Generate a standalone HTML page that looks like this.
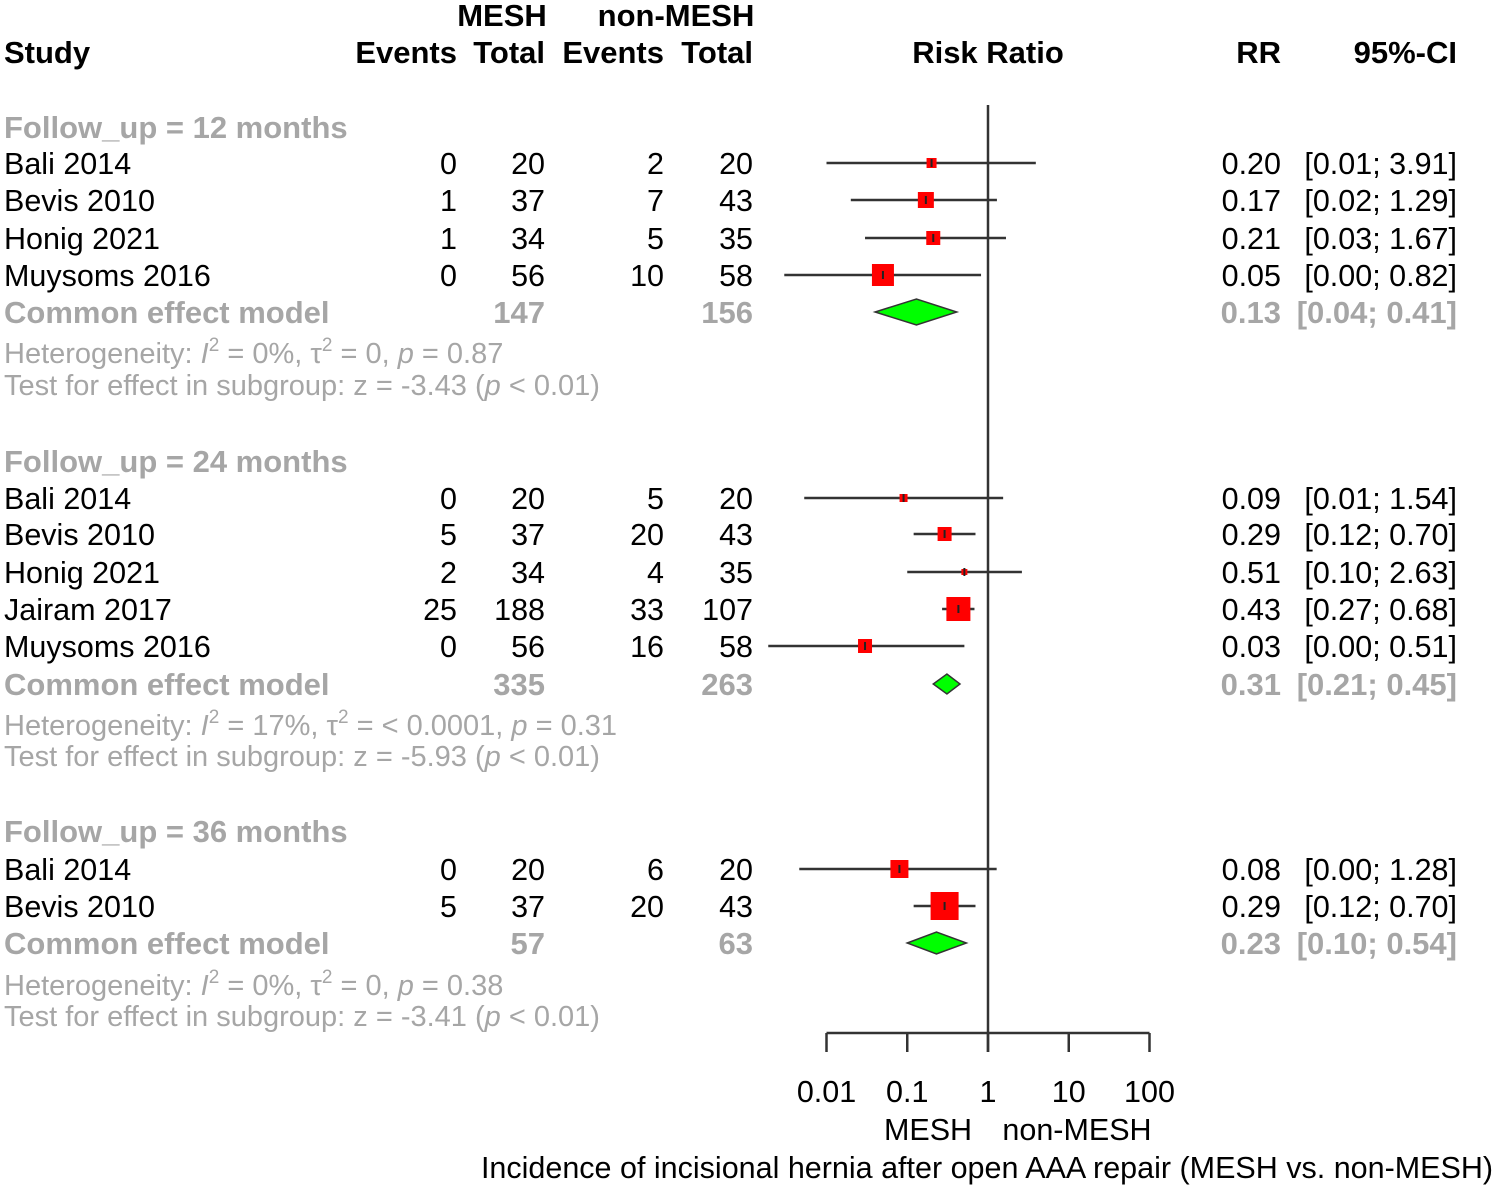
<!DOCTYPE html>
<html><head><meta charset="utf-8"><style>
html,body{margin:0;padding:0;background:#fff;}
svg{display:block;font-family:"Liberation Sans",Arial,sans-serif;}
.t{font-size:30.5px;fill:#000;}
.b{font-weight:bold;font-size:31px;}
.g{fill:#a6a6a6;}
.h{font-size:29px;fill:#a6a6a6;}
</style></head><body>
<svg id="c" width="1501" height="1188" viewBox="0 0 1501 1188">
<g id="txt"></g><g id="plot"></g>
</svg>
<script>
const studies=["Bali 2014","Bevis 2010","Honig 2021","Muysoms 2016","Bali 2014","Bevis 2010","Honig 2021","Jairam 2017","Muysoms 2016","Bali 2014","Bevis 2010"];
const ev1=[0,1,1,0,0,5,2,25,0,0,5];
const tot1=[20,37,34,56,20,37,34,188,56,20,37];
const ev2=[2,7,5,10,5,20,4,33,16,6,20];
const tot2=[20,43,35,58,20,43,35,107,58,20,43];
const rr=[0.20,0.17,0.21,0.05,0.09,0.29,0.51,0.43,0.03,0.08,0.29];
const lo=[0.01,0.02,0.03,0.003,0.0053,0.12,0.10,0.27,0.0019,0.0046,0.12];
const hi=[3.91,1.29,1.67,0.82,1.54,0.70,2.63,0.68,0.51,1.28,0.70];
const loTxt=["0.01","0.02","0.03","0.00","0.01","0.12","0.10","0.27","0.00","0.00","0.12"];
const weight=[5,8,7,11,4,7,3,12,7,9,14];
const rowY=[163,200,238,275,498,534,572,609,646,869,906];
const grpName=["Follow_up = 12 months","Follow_up = 24 months","Follow_up = 36 months"];
const grpHeadY=[127,461,831];
const cmY=[312,684,943];
const cmT1=[147,335,57];
const cmT2=[156,263,63];
const cmRR=[0.13,0.31,0.23];
const cmLo=[0.04,0.21,0.10];
const cmHi=[0.41,0.45,0.54];
const cmH=[13,10,11];
const hetTxt=["Heterogeneity: <tspan font-style='italic'>I</tspan><tspan dy='-12' font-size='19'>2</tspan><tspan dy='12'> = 0%, τ</tspan><tspan dy='-12' font-size='19'>2</tspan><tspan dy='12'> = 0, </tspan><tspan font-style='italic'>p</tspan> = 0.87",
"Heterogeneity: <tspan font-style='italic'>I</tspan><tspan dy='-12' font-size='19'>2</tspan><tspan dy='12'> = 17%, τ</tspan><tspan dy='-12' font-size='19'>2</tspan><tspan dy='12'> = &lt; 0.0001, </tspan><tspan font-style='italic'>p</tspan> = 0.31",
"Heterogeneity: <tspan font-style='italic'>I</tspan><tspan dy='-12' font-size='19'>2</tspan><tspan dy='12'> = 0%, τ</tspan><tspan dy='-12' font-size='19'>2</tspan><tspan dy='12'> = 0, </tspan><tspan font-style='italic'>p</tspan> = 0.38"];
const zTxt=["-3.43","-5.93","-3.41"];
const hetY=[352,724,984];
const testY=[384,755,1015];
const ticks=[0.01,0.1,1,10,100];
const tickLbl=["0.01","0.1","1","10","100"];

const X=v=>988+80.75*Math.log10(v);
const NS="http://www.w3.org/2000/svg";
const T=document.getElementById('txt'),P=document.getElementById('plot');
function mk(tag,attrs,parent){const e=document.createElementNS(NS,tag);for(const k in attrs)e.setAttribute(k,attrs[k]);parent.appendChild(e);return e;}
function txt(x,y,s,cls,anchor,name){const e=mk('text',{x:x,y:y+11,class:cls,'text-anchor':anchor||'start'},T);e.innerHTML=s;


return e;}
txt(502,15,"MESH","t b","middle","mesh-header");
txt(676,15,"non-MESH","t b","middle","non-mesh-header");
txt(4,52,"Study","t b","start","study-header");
txt(457,52,"Events","t b","end","mesh-events-header");
txt(545,52,"Total","t b","end","mesh-total-header");
txt(664,52,"Events","t b","end","nonmesh-events-header");
txt(753,52,"Total","t b","end","nonmesh-total-header");
txt(988,52,"Risk Ratio","t b","middle","risk-ratio-header");
txt(1281,52,"RR","t b","end","rr-header");
txt(1457,52,"95%-CI","t b","end","ci-header");
for(let i=0;i<studies.length;i++){
 const y=rowY[i];
 txt(4,y,studies[i],"t","start","study-name");
 txt(457,y,ev1[i],"t","end","mesh-events");
 txt(545,y,tot1[i],"t","end","mesh-total");
 txt(664,y,ev2[i],"t","end","nonmesh-events");
 txt(753,y,tot2[i],"t","end","nonmesh-total");
 txt(1281,y,rr[i].toFixed(2),"t","end","rr-value");
 txt(1457,y,"["+loTxt[i]+"; "+hi[i].toFixed(2)+"]","t","end","ci-value");
 const l=mk('line',{x1:X(lo[i]),x2:X(hi[i]),y1:y,y2:y,stroke:'#333','stroke-width':2.5},P);
 
 
 const w=weight[i];
 const r=mk('rect',{x:X(rr[i])-w,y:y-w,width:2*w,height:2*w,fill:'#f00'},P);
 
 
 mk('line',{x1:X(rr[i]),x2:X(rr[i]),y1:y-4,y2:y+4,stroke:'#222','stroke-width':2},P);
}
for(let g=0;g<3;g++){
 txt(4,grpHeadY[g],grpName[g],"t b g","start","subgroup-header");
 const y=cmY[g];
 txt(4,y,"Common effect model","t b g","start","common-effect-label");
 txt(545,y,cmT1[g],"t b g","end","common-mesh-total");
 txt(753,y,cmT2[g],"t b g","end","common-nonmesh-total");
 txt(1281,y,cmRR[g].toFixed(2),"t b g","end","common-rr");
 txt(1457,y,"["+cmLo[g].toFixed(2)+"; "+cmHi[g].toFixed(2)+"]","t b g","end","common-ci");
 txt(4,hetY[g],hetTxt[g],"h","start","heterogeneity-text");
 txt(4,testY[g],"Test for effect in subgroup: z = "+zTxt[g]+" (<tspan font-style='italic'>p</tspan> &lt; 0.01)","h","start","subgroup-test-text");
 const h=cmH[g];
 const d=mk('polygon',{points:`${X(cmLo[g])},${y} ${X(cmRR[g])},${y-h} ${X(cmHi[g])},${y} ${X(cmRR[g])},${y+h}`,fill:'#0f0',stroke:'#333','stroke-width':1.5},P);
 
 
}
const nl=mk('line',{x1:988,x2:988,y1:105,y2:1052,stroke:'#333','stroke-width':2.5},P);


const ax=mk('line',{x1:X(ticks[0]),x2:X(ticks[ticks.length-1]),y1:1033,y2:1033,stroke:'#333','stroke-width':2.5},P);


for(let i=0;i<ticks.length;i++){
 mk('line',{x1:X(ticks[i]),x2:X(ticks[i]),y1:1033,y2:1052,stroke:'#333','stroke-width':2.5},P);
 txt(X(ticks[i]),1091,tickLbl[i],"t","middle","x-tick-label");
}
txt(928,1129,"MESH","t","middle","favours-mesh-label");
txt(1077,1129,"non-MESH","t","middle","favours-nonmesh-label");
txt(987,1167,"Incidence of incisional hernia after open AAA repair (MESH vs. non-MESH)","t","middle","x-axis-title");
</script>
</body></html>
